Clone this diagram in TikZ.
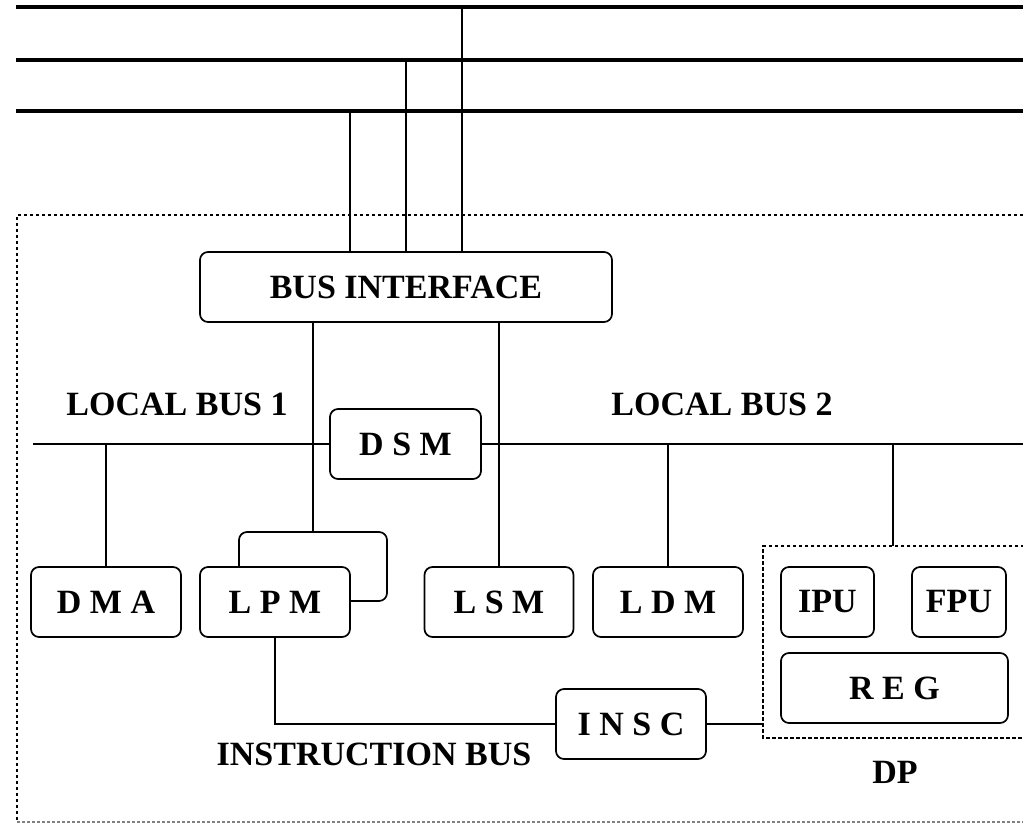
\documentclass[tikz,border=0pt]{standalone}
\usepackage{fontspec}
\setmainfont{Liberation Serif}
\begin{document}
\begin{tikzpicture}[x=1pt,y=-1pt,
  lab/.style={font=\fontsize{34}{38}\selectfont\bfseries, inner sep=0pt},
  unit/.style={draw, line width=1.7pt, rounded corners=8pt, fill=white, inner sep=0pt,
    minimum height=70pt, font=\fontsize{34}{38}\selectfont\bfseries},
  wire/.style={line width=1.7pt},
  busline/.style={line width=3.6pt},
  outerdot/.style={line width=2.8pt, dash pattern=on 3pt off 3pt},
  outerbottom/.style={line width=1.2pt, gray, dash pattern=on 3pt off 2pt},
  dpbox/.style={line width=1.6pt, dash pattern=on 3.5pt off 2.5pt}]
\useasboundingbox (0,0) rectangle (1023,824);

% system buses
\coordinate (b1l) at (16,7);   \coordinate (b1r) at (1023,7);
\coordinate (b2l) at (16,60);  \coordinate (b2r) at (1023,60);
\coordinate (b3l) at (16,111); \coordinate (b3r) at (1023,111);
\draw[busline] (b1l) -- (b1r);
\draw[busline] (b2l) -- (b2r);
\draw[busline] (b3l) -- (b3r);

% outer (dotted) boundary
\coordinate (ob1) at (1023,215);
\coordinate (ob2) at (17,215);
\coordinate (ob3) at (17,822);
\coordinate (ob4) at (1023,822);
\draw[outerdot] (ob1) -- (ob2) -- (ob3);
\draw[outerbottom] (ob3) -- (ob4);

% bus interface
\node[unit, minimum width=412pt] (bi) at (406,287) {BUS INTERFACE};
\coordinate (t1) at (462,7);
\coordinate (t2) at (406,60);
\coordinate (t3) at (350,111);
\draw[wire] (t1) -- (t1 |- bi.north);
\draw[wire] (t2) -- (t2 |- bi.north);
\draw[wire] (t3) -- (t3 |- bi.north);

% local bus
\node[unit, minimum width=151pt] (dsm) at (405.5,444) {D S M};
\coordinate (lbl) at (33,444);
\coordinate (lbr) at (1023,444);
\draw[wire] (lbl) -- (dsm.west);
\draw[wire] (dsm.east) -- (lbr);
\node[lab] (lb1) at (177,404) {LOCAL BUS 1};
\node[lab] (lb2) at (722,404) {LOCAL BUS 2};

% DP group
\coordinate (dpne) at (1030,546);
\coordinate (dpnw) at (763,546);
\coordinate (dpsw) at (763,738);
\coordinate (dpse) at (1030,738);
\draw[dpbox] (dpne) -- (dpnw) -- (dpsw) -- (dpse);
\node[unit, minimum width=93pt] (ipu) at (827.5,602) {IPU};
\node[unit, minimum width=94pt] (fpu) at (959,602) {FPU};
\node[unit, minimum width=227pt] (reg) at (894.5,688) {R E G};
\node[lab] (dp) at (895,772) {DP};

% bottom units
\node[unit, minimum width=150pt] (dma) at (106,602) {D M A};
\node[unit, minimum width=148pt, minimum height=69pt] (lpmback) at (313,566.5) {};
\node[unit, minimum width=150pt] (lpm) at (275,602) {L P M};
\node[unit, minimum width=149pt] (lsm) at (499,602) {L S M};
\node[unit, minimum width=150pt] (ldm) at (668,602) {L D M};
\node[unit, minimum width=150pt] (insc) at (631,724) {I N S C};

% connections
\draw[wire] (lpmback.north |- bi.south) -- (lpmback.north);
\draw[wire] (lsm.north |- bi.south) -- (lsm.north);
\coordinate (dmatap) at (106,444);
\draw[wire] (dmatap) -- (dma.north);
\coordinate (ldmtap) at (668,444);
\draw[wire] (ldmtap) -- (ldm.north);
\coordinate (dptap) at (893,444);
\draw[wire] (dptap) -- (dptap |- dpnw);

% instruction bus
\draw[wire] (lpm.south) |- (insc.west);
\draw[wire] (insc.east) -- (insc.east -| dpnw);
\node[lab] (ib) at (374,754) {INSTRUCTION BUS};
\end{tikzpicture}
\end{document}
